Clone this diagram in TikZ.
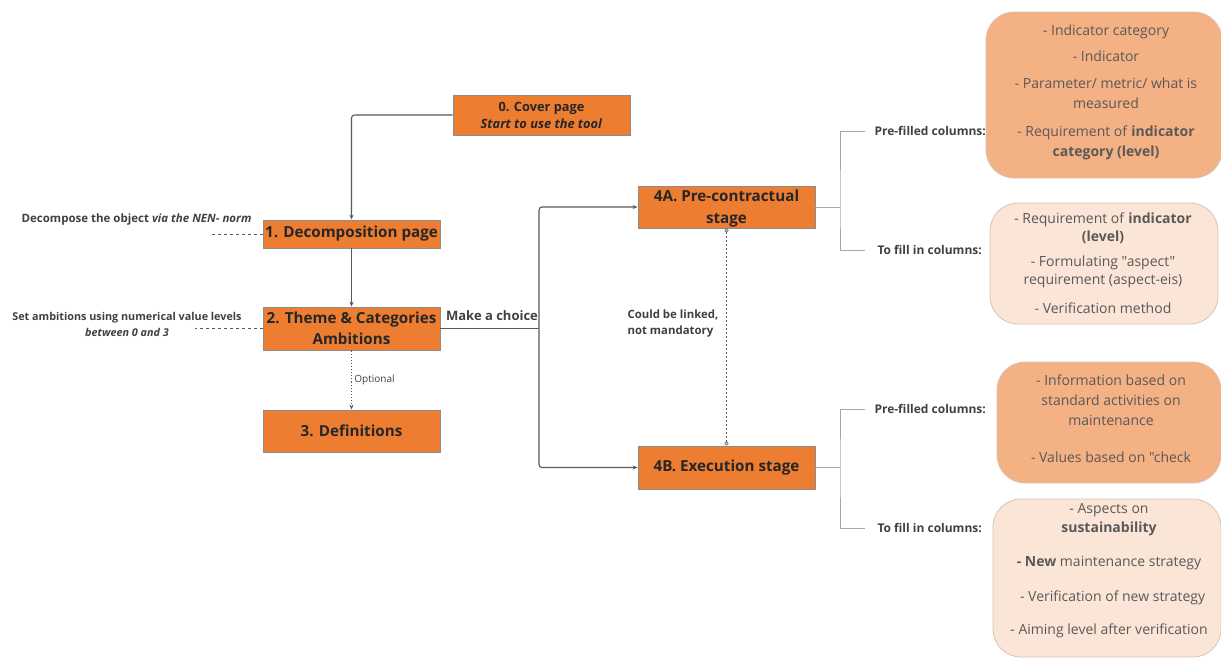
\documentclass[tikz,border=0pt]{standalone}
\usepackage{fontspec}
\setmainfont{Open Sans}[Ligatures=TeXOff]
\usetikzlibrary{arrows.meta}
\definecolor{orng}{HTML}{ED7D31}
\definecolor{boxborder}{HTML}{8C8C8C}
\definecolor{txtdark}{HTML}{262626}
\definecolor{lbl}{HTML}{404040}
\definecolor{conncol}{HTML}{595959}
\definecolor{brk}{HTML}{A6A6A6}
\definecolor{darkfill}{HTML}{F4B183}
\definecolor{lightfill}{HTML}{FBE5D6}
\definecolor{rbord}{HTML}{D9C3B5}
\definecolor{rtext}{HTML}{595959}
\tikzset{
  stepbox/.style={draw=boxborder, fill=orng, line width=0.8pt, minimum width=177, minimum height=42,
    font=\bfseries\fontsize{15.2}{21}\selectfont, text=txtdark, align=center, inner sep=1pt},
  conn/.style={draw=conncol, line width=1.1pt, -{Stealth[length=5pt,width=4pt]}},
  plain/.style={draw=conncol, line width=1.1pt},
  bracket/.style={draw=brk, line width=1pt},
  lab/.style={font=\bfseries\fontsize{12}{16}\selectfont, text=lbl},
  darkbox/.style={draw=rbord, fill=darkfill, rounded corners=28, line width=0.8pt},
  lightbox/.style={draw=rbord, fill=lightfill, rounded corners=28, line width=0.8pt},
  rtxt/.style={text=rtext, align=center, inner sep=0pt},
}
\begin{document}
\begin{tikzpicture}[x=1pt,y=-1pt]
\useasboundingbox (0,0) rectangle (1221,657);
% step boxes
\node[stepbox, minimum height=40, font=\bfseries\fontsize{12.8}{17}\selectfont] (cover) at (541.5,115) {0. Cover page\\\textit{Start to use the tool}};
\node[stepbox, minimum height=28] (dec) at (351.5,234) {1. Decomposition page};
\node[stepbox, minimum height=43] (theme) at (351.5,328.5) {2. Theme \& Categories\\Ambitions};
\node[stepbox] (def) at (351.5,431) {3. Definitions};
\node[stepbox, font=\bfseries\fontsize{15.2}{22}\selectfont] (a) at (726.5,207) {\rule{0pt}{14pt}4A. Pre-contractual\\stage};
\node[stepbox, minimum height=43] (b) at (726.5,467.5) {4B. Execution stage};
% main connectors
\draw[conn, rounded corners=3] (cover.west) -| (dec.north);
\draw[conn] (dec) -- (theme);
\draw[conn, dotted] (theme) -- node[right, xshift=-1pt, font=\fontsize{10}{12}\selectfont, text=lbl]{Optional} (def);
\coordinate (split) at (539,328.5);
\draw[plain] (theme.east) -- (split);
\draw[conn, rounded corners=3] (split) |- (a.west);
\draw[conn, rounded corners=3] (split) |- (b.west);
\node[lab, font=\bfseries\fontsize{13}{14}\selectfont] (choice) at (492,316) {Make a choice};
\draw[draw=conncol, line width=0.6pt, dashed, dash pattern=on 2pt off 2pt, {Circle[open,length=4pt]}-{Circle[open,length=4pt]}] (a.south) -- (b.north);
\node[lab, align=left, anchor=west, font=\bfseries\fontsize{11.4}{16}\selectfont] (linked) at (624,324) {Could be linked,\\not mandatory};
% left annotations
\coordinate (decl) at (209,234);
\draw[draw=conncol, line width=0.8pt, dashed] (dec.west) -- (decl);
\node[lab, anchor=east, font=\bfseries\fontsize{11.5}{14}\selectfont] (decl-t) at (255,220) {Decompose the object \textit{via the NEN- norm}};
\coordinate (thl) at (195,328.5);
\draw[draw=conncol, line width=0.8pt, dashed] (theme.west) -- (thl);
\node[lab, align=center, font=\bfseries\fontsize{10.8}{16}\selectfont] (thl-t) at (127,324) {Set ambitions using numerical value levels\\\textit{between 0 and 3}};
% brackets
\coordinate (aj) at (840,207);
\coordinate (apf) at (865,131);
\coordinate (atf) at (865,250);
\draw[bracket] (a.east) -- (aj);
\draw[bracket] (apf) -| (aj) |- (atf);
\node[lab, anchor=west] (apf-t) at (871,131) {Pre-filled columns:};
\node[lab, anchor=west] (atf-t) at (874,250) {To fill in columns:};
\coordinate (bj) at (840,467.5);
\coordinate (bpf) at (865,409);
\coordinate (btf) at (865,528);
\draw[bracket] (b.east) -- (bj);
\draw[bracket] (bpf) -| (bj) |- (btf);
\node[lab, anchor=west] (bpf-t) at (871,409) {Pre-filled columns:};
\node[lab, anchor=west] (btf-t) at (874,528) {To fill in columns:};
% right boxes
\node[darkbox, minimum width=236, minimum height=166] (r1) at (1104,95) {};
\node[rtxt, font=\fontsize{14}{20}\selectfont] (r1t) at (1106,92.5) {- Indicator category\\[6pt]- Indicator\\[7pt]- Parameter/ metric/ what is\\measured\\[8pt]- Requirement of \textbf{indicator}\\\textbf{category (level)}};
\node[lightbox, minimum width=228, minimum height=121] (r2) at (1104,263.5) {};
\node[rtxt, font=\fontsize{14}{18}\selectfont] (r2t) at (1103,263) {- Requirement of \textbf{indicator}\\\textbf{(level)}\\[7pt]- Formulating "aspect"\\requirement (aspect-eis)\\[11pt]- Verification method};
\node[darkbox, minimum width=224, minimum height=121] (r3) at (1109,422.5) {};
\node[rtxt, font=\fontsize{14}{20}\selectfont] (r3t) at (1111,419) {- Information based on\\standard activities on\\maintenance\\[17pt]- Values based on "check};
\node[lightbox, minimum width=228, minimum height=158] (r4) at (1107,578) {};
\node[rtxt, font=\fontsize{14}{19}\selectfont] (r4t) at (1109,570.5) {- Aspects on\\\textbf{sustainability}\\[15pt]\textbf{- New} maintenance strategy\\[16pt]\ \ - Verification of new strategy\\[14pt]- Aiming level after verification};
\end{tikzpicture}
\end{document}
